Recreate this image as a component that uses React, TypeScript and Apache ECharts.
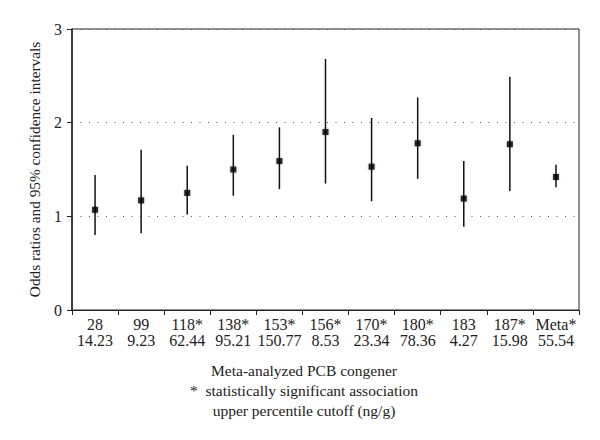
import React, { useEffect, useRef } from "react";
import * as echarts from "echarts";

const congeners = ["28", "99", "118*", "138*", "153*", "156*", "170*", "180*", "183", "187*", "Meta*"];
const cutoffs = ["14.23", "9.23", "62.44", "95.21", "150.77", "8.53", "23.34", "78.36", "4.27", "15.98", "55.54"];
const oddsRatios = [1.07, 1.17, 1.25, 1.50, 1.59, 1.90, 1.53, 1.78, 1.19, 1.77, 1.42];
const lowerCI = [0.80, 0.82, 1.02, 1.22, 1.29, 1.35, 1.16, 1.40, 0.89, 1.27, 1.31];
const upperCI = [1.44, 1.71, 1.54, 1.87, 1.95, 2.68, 2.05, 2.27, 1.59, 2.49, 1.55];
const yTicks = [0, 1, 2, 3];

const FONT = "'Liberation Serif', 'DejaVu Serif', serif";

export default function App() {
  const ref = useRef<HTMLDivElement>(null);
  useEffect(() => {
    if (!ref.current) return;
    const chart = echarts.init(ref.current, null, { renderer: "svg" });
    const categories = congeners.map((c, i) => c + "\n" + cutoffs[i]);
    const errData = congeners.map((_, i) => [i, lowerCI[i], upperCI[i]]);
    chart.setOption({
      animation: false,
      backgroundColor: "#ffffff",
      textStyle: { fontFamily: FONT },
      grid: {
        left: 72,
        right: 21,
        top: 29,
        bottom: 130,
        show: true,
        borderColor: "#222",
        borderWidth: 1,
        backgroundColor: "transparent",
      },
      xAxis: {
        type: "category",
        data: categories,
        boundaryGap: true,
        axisLine: { lineStyle: { color: "#222", width: 1 } },
        axisTick: { show: true, length: 5, inside: false, lineStyle: { color: "#222" } },
        axisLabel: {
          interval: 0,
          color: "#222",
          fontFamily: FONT,
          fontSize: 16,
          lineHeight: 15.5,
          margin: 7,
        },
        splitLine: { show: false },
      },
      yAxis: {
        type: "value",
        min: 0,
        max: 3,
        interval: 1,
        name: "Odds ratios and 95% confidence intervals",
        nameLocation: "middle",
        nameGap: 30,
        nameTextStyle: { color: "#222", fontFamily: FONT, fontSize: 15.3 },
        axisLine: { show: true, lineStyle: { color: "#222", width: 1.5 } },
        axisTick: { show: true, length: 5, lineStyle: { color: "#222" } },
        axisLabel: {
          color: "#222",
          fontFamily: FONT,
          fontSize: 16,
          margin: 10,
          formatter: (v: number) => (yTicks.includes(v) ? String(v) : ""),
        },
        splitLine: {
          show: true,
          lineStyle: { color: "#555", type: [1, 7.5], width: 1 },
        },
      },
      series: [
        {
          type: "custom",
          data: errData,
          encode: { x: 0, y: [1, 2] },
          renderItem: (params: any, api: any) => {
            const idx = api.value(0);
            const lo = api.coord([idx, api.value(1)]);
            const hi = api.coord([idx, api.value(2)]);
            return {
              type: "line",
              shape: { x1: lo[0], y1: lo[1], x2: hi[0], y2: hi[1] },
              style: { stroke: "#111", lineWidth: 1.5 },
            };
          },
          z: 2,
        },
        {
          type: "scatter",
          data: oddsRatios.map((v, i) => [i, v]),
          symbol: "rect",
          symbolSize: 6,
          itemStyle: { color: "#000", shadowBlur: 2, shadowColor: "rgba(0,0,0,0.4)" },
          z: 3,
        },
      ],
      graphic: [
        {
          type: "text",
          x: 304,
          y: 370,
          style: {
            text: "Meta-analyzed PCB congener",
            fill: "#222",
            font: `15.5px ${FONT}`,
            align: "center",
            verticalAlign: "middle",
          },
        },
        {
          type: "text",
          x: 304,
          y: 390,
          style: {
            text: "*  statistically significant association",
            fill: "#222",
            font: `15.5px ${FONT}`,
            align: "center",
            verticalAlign: "middle",
          },
        },
        {
          type: "text",
          x: 304,
          y: 410,
          style: {
            text: "upper percentile cutoff (ng/g)",
            fill: "#222",
            font: `15.5px ${FONT}`,
            align: "center",
            verticalAlign: "middle",
          },
        },
      ],
    });
    return () => chart.dispose();
  }, []);
  return <div ref={ref} style={{ width: 600, height: 440, margin: -8 }} />;
}
